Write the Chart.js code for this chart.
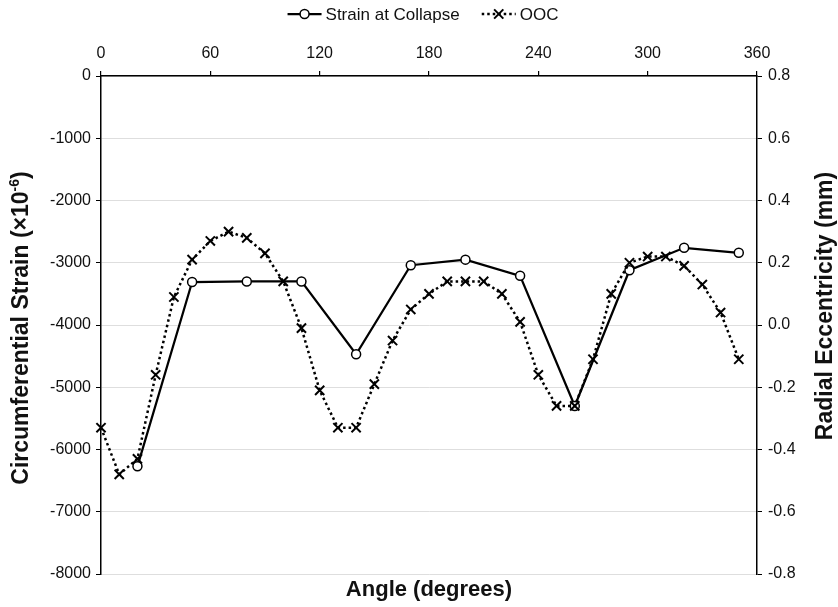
<!DOCTYPE html>
<html>
<head>
<meta charset="utf-8">
<script src="https://cdn.jsdelivr.net/npm/chart.js@4.4.1/dist/chart.umd.min.js"></script>
<style>
  html, body { margin: 0; padding: 0; background: #fff; }
  canvas { display: block; }
</style>
</head>
<body>
<canvas id="chart" width="838" height="607"></canvas>
<script>
// Strain measured at collapse, by gauge angle (degrees)
const strainAngles = [20, 50, 80, 110, 140, 170, 200, 230, 260, 290, 320, 350];
const strainValues = [-6270, -3310, -3300, -3300, -4470, -3040, -2950, -3210, -5300, -3120, -2760, -2840];

// Out-of-circularity (radial eccentricity, mm), every 10 degrees
const oocAngles = [0, 10, 20, 30, 40, 50, 60, 70, 80, 90, 100, 110, 120, 130, 140, 150, 160, 170,
                   180, 190, 200, 210, 220, 230, 240, 250, 260, 270, 280, 290, 300, 310, 320, 330, 340, 350];
const oocValues = [-0.33, -0.48, -0.43, -0.16, 0.09, 0.21, 0.27, 0.30, 0.28, 0.23, 0.14, -0.01,
                   -0.21, -0.33, -0.33, -0.19, -0.05, 0.05, 0.10, 0.14, 0.14, 0.14, 0.10, 0.01,
                   -0.16, -0.26, -0.26, -0.11, 0.10, 0.20, 0.22, 0.22, 0.19, 0.13, 0.04, -0.11];

// Axis tick values
const angleTicks = [0, 60, 120, 180, 240, 300, 360];
const strainTicks = [0, -1000, -2000, -3000, -4000, -5000, -6000, -7000, -8000];
const eccTicks = [0.8, 0.6, 0.4, 0.2, 0.0, -0.2, -0.4, -0.6, -0.8];

const FONT = "'Liberation Sans', Arial, sans-serif";
const INK = '#111';

function toPoints(xs, ys) {
  return xs.map((x, i) => ({ x: x, y: ys[i] }));
}

function setTicks(values) {
  return scale => { scale.ticks = values.map(v => ({ value: v })); };
}

function drawMarker(ctx, style, x, y, r, lw) {
  ctx.save();
  ctx.lineWidth = lw;
  ctx.strokeStyle = '#000';
  ctx.setLineDash([]);
  ctx.beginPath();
  if (style === 'circle') {
    ctx.fillStyle = '#fff';
    ctx.arc(x, y, r, 0, Math.PI * 2);
    ctx.fill();
    ctx.stroke();
  } else {
    const d = r * Math.SQRT1_2;
    ctx.moveTo(x - d, y - d); ctx.lineTo(x + d, y + d);
    ctx.moveTo(x + d, y - d); ctx.lineTo(x - d, y + d);
    ctx.stroke();
  }
  ctx.restore();
}

// White page, legend row and the two vertical axis titles
const decorations = {
  id: 'decorations',
  beforeDraw(chart) {
    const ctx = chart.ctx;
    ctx.save();
    ctx.fillStyle = '#fff';
    ctx.fillRect(0, 0, chart.width, chart.height);
    ctx.restore();
  },
  afterDraw(chart) {
    const ctx = chart.ctx;
    ctx.save();

    // legend
    ctx.font = '17px ' + FONT;
    ctx.textBaseline = 'middle';
    ctx.textAlign = 'left';
    const sym = 34, gapText = 4, gapItems = 22, ly = 14;
    const items = chart.data.datasets.slice().reverse().map(ds => ({ ds: ds, w: ctx.measureText(ds.label).width }));
    let total = gapItems * (items.length - 1);
    items.forEach(it => { total += sym + gapText + it.w; });
    let x = 423 - total / 2;
    items.forEach(it => {
      const ds = it.ds;
      ctx.save();
      ctx.strokeStyle = '#000';
      ctx.lineWidth = ds.borderWidth;
      ctx.lineCap = ds.borderCapStyle || 'butt';
      ctx.setLineDash(ds.borderDash || []);
      ctx.beginPath();
      ctx.moveTo(x, ly);
      ctx.lineTo(x + sym, ly);
      ctx.stroke();
      ctx.restore();
      drawMarker(ctx, ds.pointStyle, x + sym / 2, ly, ds.pointRadius, ds.pointBorderWidth);
      ctx.fillStyle = INK;
      ctx.fillText(ds.label, x + sym + gapText, ly + 1);
      x += sym + gapText + it.w + gapItems;
    });

    // left axis title with superscript exponent
    const yl = chart.scales.y;
    const mainFont = 'bold 23px ' + FONT;
    const supFont = 'bold 14px ' + FONT;
    const part1 = 'Circumferential Strain (\u00d710', sup = '-6', part2 = ')';
    ctx.font = mainFont;
    const w1 = ctx.measureText(part1).width, w3 = ctx.measureText(part2).width;
    ctx.font = supFont;
    const w2 = ctx.measureText(sup).width;
    const tw = w1 + w2 + w3;
    ctx.save();
    ctx.translate(22, (yl.top + yl.bottom) / 2 + 3);
    ctx.rotate(-Math.PI / 2);
    ctx.fillStyle = INK;
    ctx.textAlign = 'left';
    ctx.textBaseline = 'middle';
    ctx.font = mainFont;
    ctx.fillText(part1, -tw / 2, 0);
    ctx.font = supFont;
    ctx.fillText(sup, -tw / 2 + w1, -7);
    ctx.font = mainFont;
    ctx.fillText(part2, -tw / 2 + w1 + w2, 0);
    ctx.restore();

    // right axis title, reading upward
    ctx.save();
    ctx.translate(826, 306);
    ctx.rotate(-Math.PI / 2);
    ctx.fillStyle = INK;
    ctx.textAlign = 'center';
    ctx.textBaseline = 'middle';
    ctx.font = 'bold 23px ' + FONT;
    ctx.fillText('Radial Eccentricity (mm)', 0, 0);
    ctx.restore();

    ctx.restore();
  }
};

new Chart(document.getElementById('chart'), {
  type: 'line',
  data: {
    datasets: [
      {
        label: 'OOC',
        data: toPoints(oocAngles, oocValues),
        xAxisID: 'x',
        yAxisID: 'y2',
        order: 1,
        borderColor: '#000',
        borderWidth: 2.5,
        borderDash: [2.5, 3],
        borderCapStyle: 'butt',
        tension: 0,
        pointStyle: 'crossRot',
        pointRadius: 6.5,
        pointBorderWidth: 2,
        pointBorderColor: '#000',
        pointBackgroundColor: '#000',
        clip: false
      },
      {
        label: 'Strain at Collapse',
        data: toPoints(strainAngles, strainValues),
        xAxisID: 'x',
        yAxisID: 'y',
        order: 2,
        borderColor: '#000',
        borderWidth: 2.25,
        tension: 0,
        pointStyle: 'circle',
        pointRadius: 4.5,
        pointBorderWidth: 1.5,
        pointBorderColor: '#000',
        pointBackgroundColor: '#fff',
        clip: false
      }
    ]
  },
  options: {
    responsive: false,
    devicePixelRatio: 1,
    animation: false,
    layout: { padding: 0 },
    plugins: {
      legend: { display: false },
      tooltip: { enabled: false },
      title: { display: false }
    },
    scales: {
      x: {
        type: 'linear',
        position: 'top',
        min: 0,
        max: 360,
        afterBuildTicks: setTicks(angleTicks),
        afterFit: s => { s.height = 76; },
        border: { display: true, color: '#000', width: 1.5 },
        grid: { drawOnChartArea: false, color: '#000', tickLength: 5, lineWidth: 1.2 },
        ticks: { color: INK, font: { family: FONT, size: 16 }, padding: 8, maxRotation: 0, callback: v => String(v) }
      },
      xb: {
        type: 'linear',
        position: 'bottom',
        min: 0,
        max: 360,
        afterFit: s => { s.height = 33; },
        border: { display: false },
        grid: { display: false },
        ticks: { display: false },
        title: {
          display: true,
          text: 'Angle (degrees)',
          color: INK,
          font: { family: FONT, size: 22, weight: 'bold' },
          padding: { top: 0, bottom: 4 }
        }
      },
      y: {
        type: 'linear',
        position: 'left',
        min: -8000,
        max: 0,
        afterBuildTicks: setTicks(strainTicks),
        afterFit: s => { s.width = 101; },
        border: { display: true, color: '#000', width: 1.5 },
        grid: { color: '#dedede', lineWidth: 1, tickColor: '#000', tickLength: 5 },
        ticks: { color: INK, font: { family: FONT, size: 16 }, padding: 5, callback: v => String(v) }
      },
      y2: {
        type: 'linear',
        position: 'right',
        min: -0.8,
        max: 0.8,
        afterBuildTicks: setTicks(eccTicks),
        afterFit: s => { s.width = 81; },
        border: { display: true, color: '#000', width: 1.5 },
        grid: { drawOnChartArea: false, color: '#000', tickLength: 5 },
        ticks: {
          color: INK,
          font: { family: FONT, size: 16 },
          padding: 6,
          callback: v => (Math.abs(v) < 1e-9 ? 0 : v).toFixed(1)
        }
      }
    }
  },
  plugins: [decorations]
});
</script>
</body>
</html>
